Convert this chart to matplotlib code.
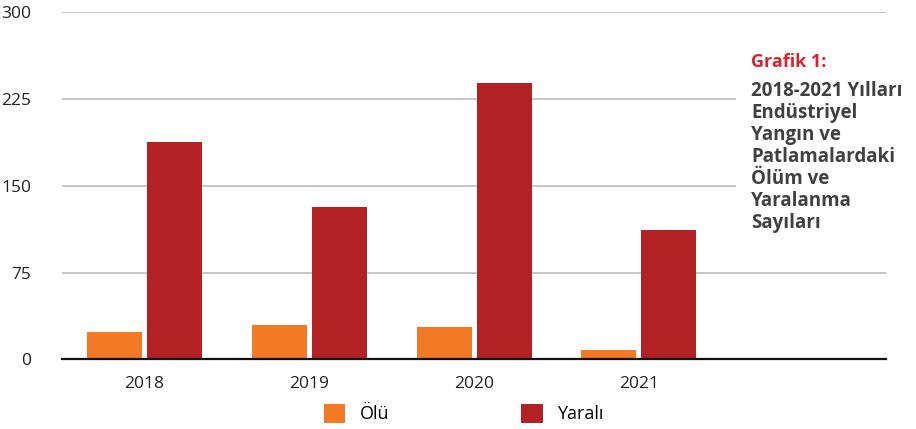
import numpy as np
import matplotlib.pyplot as plt
from matplotlib.patches import Rectangle

plt.rcParams['font.family'] = ['Open Sans', 'DejaVu Sans']

years = ['2018', '2019', '2020', '2021']
olu = [24, 30, 28, 8]
yarali = [188, 132, 239, 112]
labels = ['Ölü', 'Yaralı']

c_olu = '#F37A24'
c_yar = '#B22225'

fig = plt.figure(figsize=(9.16, 4.29), dpi=100)
ax = fig.add_axes([0.0677, 0.1625, 0.8996, 0.8088])

x = np.arange(len(years))
w = 0.334
ax.bar(x - 0.182, olu, w, color=c_olu, label=labels[0], zorder=3)
ax.bar(x + 0.182, yarali, w, color=c_yar, label=labels[1], zorder=3)

ax.set_xlim(-0.5, 4.5)
ax.set_ylim(0, 300)
ax.set_yticks([0, 75, 150, 225, 300])
ax.set_xticks(x)
ax.set_xticklabels(years)
ax.tick_params(axis='both', length=0, labelsize=12.5, colors='#222222')
ax.tick_params(axis='y', pad=22)
ax.tick_params(axis='x', pad=12)
ax.grid(axis='y', color='#b5b5b5', linewidth=1.1)
ax.set_axisbelow(True)
for s in ['top', 'right', 'left']:
    ax.spines[s].set_visible(False)
ax.spines['bottom'].set_color('#111111')
ax.spines['bottom'].set_linewidth(1.6)
ax.spines['bottom'].set_zorder(4)

# white box behind the caption, hides part of the grid
ax.add_patch(Rectangle((0.818, 0.45), 0.2, 0.33, transform=ax.transAxes,
                       facecolor='white', edgecolor='none', zorder=2))

fig.text(751 / 916, 1 - 62 / 429, 'Grafik 1:', color='#D32630', fontsize=13,
         fontweight='bold', va='center', ha='left')
fig.text(751 / 916, 1 - 81 / 429,
         '2018-2021 Yılları\nEndüstriyel\nYangın ve\nPatlamalardaki\nÖlüm ve\nYaralanma\nSayıları',
         color='#404040', fontsize=13.5, fontweight='bold', va='top', ha='left',
         linespacing=1.13)

fig.legend(loc='lower center', bbox_to_anchor=(0.506, -0.025), ncol=2, frameon=False,
           fontsize=13, handlelength=1.2, handleheight=1.2, handletextpad=0.8,
           columnspacing=7.3)

fig.savefig('out.png', dpi=100)
